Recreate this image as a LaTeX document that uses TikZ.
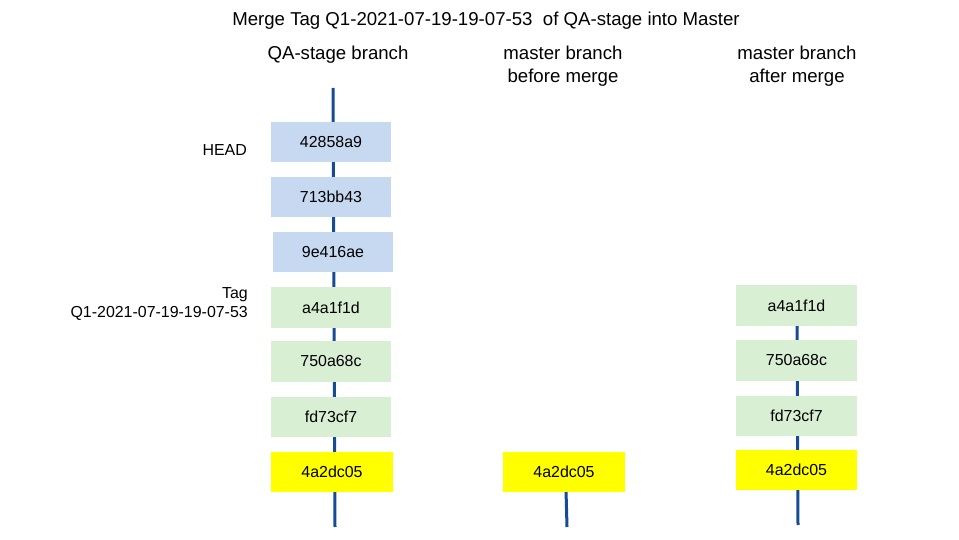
\documentclass[tikz,border=0pt]{standalone}
\usepackage{fontspec}
\setmainfont{Liberation Sans}
\definecolor{branchblue}{RGB}{22,76,150}
\definecolor{boxblue}{RGB}{198,217,241}
\definecolor{boxgreen}{RGB}{216,239,212}
\definecolor{boxyellow}{RGB}{255,255,0}
\tikzset{
  commit/.style={minimum width=120bp, minimum height=40bp, inner sep=0pt, font=\fontsize{16}{19}\selectfont},
  bluec/.style={commit, fill=boxblue},
  greenc/.style={commit, fill=boxgreen},
  yellowc/.style={commit, fill=boxyellow},
  hdr/.style={font=\fontsize{18.7}{23}\selectfont, align=center, inner sep=0pt},
  lbl/.style={font=\fontsize{16}{19}\selectfont, align=right, inner sep=0pt, anchor=east},
  branch/.style={draw=branchblue, line width=3bp}
}
\begin{document}
\begin{tikzpicture}[x=1bp,y=-1bp]
\useasboundingbox (0,0) rectangle (959,540);
% branch lines
\coordinate (l1t) at (333,88);
\coordinate (l1b) at (335,527);
\coordinate (l2t) at (566,490);
\coordinate (l2b) at (567,527);
\coordinate (l3t) at (797,290);
\coordinate (l3b) at (798,525);
\draw[branch] (l1t) -- (l1b);
\draw[branch] (l2t) -- (l2b);
\draw[branch] (l3t) -- (l3b);
% title and headers
\node[hdr] (title) at (486,21) {Merge Tag Q1-2021-07-19-19-07-53~ of QA-stage into Master};
\node[hdr] (h1) at (338,55) {QA-stage branch};
\node[hdr, anchor=north] (h2) at (563,45.5) {master branch\\before merge};
\node[hdr, anchor=north] (h3) at (797,45.5) {master branch\\after merge};
% column 1
\node[bluec] (a1) at (331,142.5) {42858a9};
\node[bluec] (a2) at (331,197) {713bb43};
\node[bluec] (a3) at (333,252.5) {9e416ae};
\node[greenc] (a4) at (331,307.5) {a4a1f1d};
\node[greenc] (a5) at (331,361.5) {750a68c};
\node[greenc] (a6) at (331,416.5) {fd73cf7};
\node[yellowc, minimum width=122bp] (a7) at (332,471.5) {4a2dc05};
% labels
\node[lbl] (head) at (247,150) {HEAD};
\node[lbl] (tag) at (248,304) {Tag\\Q1-2021-07-19-19-07-53};
% column 2
\node[yellowc, minimum width=122bp] (b1) at (564,471.5) {4a2dc05};
% column 3
\node[greenc, minimum width=121bp] (c1) at (796.5,305.5) {a4a1f1d};
\node[greenc, minimum width=121bp] (c2) at (796.5,360.5) {750a68c};
\node[greenc, minimum width=121bp] (c3) at (796.5,415.5) {fd73cf7};
\node[yellowc, minimum width=121bp] (c4) at (796.5,469.5) {4a2dc05};
\end{tikzpicture}
\end{document}
